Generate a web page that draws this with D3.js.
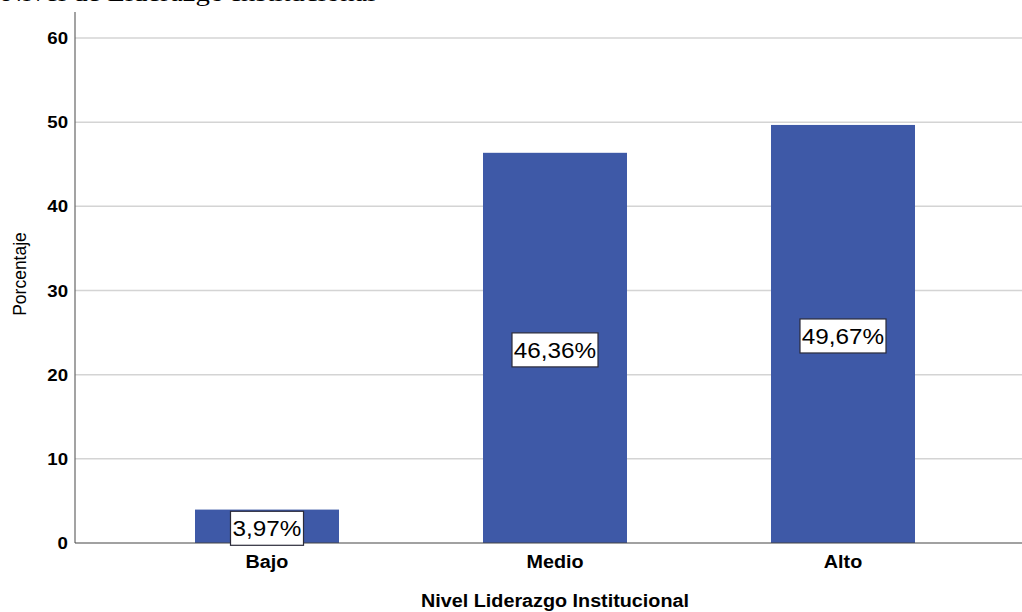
<!DOCTYPE html>
<html>
<head>
<meta charset="utf-8">
<script src="https://cdn.jsdelivr.net/npm/d3@7"></script>
<style>
  html, body { margin: 0; padding: 0; background: #fff; }
  svg { display: block; }
</style>
</head>
<body>
<svg id="chart" width="1022" height="612"></svg>
<script>
// Data
const categories = ["Bajo", "Medio", "Alto"];
const percentages = [3.97, 46.36, 49.67];
const valueLabels = ["3,97%", "46,36%", "49,67%"];
const yTicks = [0, 10, 20, 30, 40, 50, 60];
const heading = "Nivel de Liderazgo Institucional";
const xTitle = "Nivel Liderazgo Institucional";
const yTitle = "Porcentaje";

const W = 1022, H = 612;
const SX = 1.13; // horizontal stretch applied to text
const svg = d3.select("#chart");

const plot = { left: 75, right: 1035, top: 12, bottom: 543 };

const x = d3.scaleBand()
  .domain(categories)
  .range([plot.left, plot.right])
  .paddingInner(0.5)
  .paddingOuter(0.4167);

const y = d3.scaleLinear()
  .domain([0, 60])
  .range([plot.bottom, 38]);

function addText(g, tx, ty, str, opts) {
  const t = g.append("text")
    .attr("transform", `translate(${tx},${ty}) scale(${opts.sx || SX},1)` + (opts.rotate ? ` rotate(${opts.rotate})` : ""))
    .attr("font-family", opts.family || "'Liberation Sans', Arial, sans-serif")
    .attr("font-size", opts.size)
    .attr("font-weight", opts.weight || "normal")
    .attr("text-anchor", opts.anchor || "middle")
    .attr("fill", opts.fill || "#000")
    .text(str);
  return t;
}

// Heading above the chart, mostly outside the top edge
addText(svg, 2, 1, heading, { size: 24, anchor: "start", family: "'Liberation Serif', 'Times New Roman', serif", sx: 1.2 });

// Gridlines
svg.append("g")
  .selectAll("line")
  .data(yTicks.filter(d => d > 0))
  .join("line")
  .attr("x1", plot.left)
  .attr("x2", W)
  .attr("y1", d => y(d))
  .attr("y2", d => y(d))
  .attr("stroke", "#d4d4d4")
  .attr("stroke-width", 1.5);

// Bars
svg.append("g")
  .selectAll("rect")
  .data(categories)
  .join("rect")
  .attr("x", d => x(d))
  .attr("y", (d, i) => y(percentages[i]))
  .attr("width", x.bandwidth())
  .attr("height", (d, i) => y(0) - y(percentages[i]))
  .attr("fill", "#3e59a7");

// Axes lines
svg.append("line")
  .attr("x1", plot.left).attr("x2", plot.left)
  .attr("y1", plot.top).attr("y2", plot.bottom)
  .attr("stroke", "#666").attr("stroke-width", 1.2);
svg.append("line")
  .attr("x1", plot.left).attr("x2", W)
  .attr("y1", plot.bottom).attr("y2", plot.bottom)
  .attr("stroke", "#444").attr("stroke-width", 1.2);

// Y tick labels
const yg = svg.append("g");
yTicks.forEach(t => {
  addText(yg, 68, y(t) + 6, String(t), { size: 16.5, weight: "bold", anchor: "end" });
});

// X category labels
const xg = svg.append("g");
categories.forEach(c => {
  addText(xg, x(c) + x.bandwidth() / 2, 568, c, { size: 17.5, weight: "bold" });
});

// Value labels in boxes
const lg = svg.append("g");
categories.forEach((c, i) => {
  const cx = x(c) + x.bandwidth() / 2;
  const cy = (y(percentages[i]) + y(0)) / 2 + 2;
  const bw = valueLabels[i].length === 5 ? 73 : 86;
  const bh = 34;
  lg.append("rect")
    .attr("x", cx - bw / 2)
    .attr("y", cy - bh / 2)
    .attr("width", bw)
    .attr("height", bh)
    .attr("fill", "#fff")
    .attr("stroke", "#2b2b3a")
    .attr("stroke-width", 1.2);
  addText(lg, cx, cy + 8, valueLabels[i], { size: 21.5 });
});

// Axis titles
addText(svg, 555, 607, xTitle, { size: 17.5, weight: "bold" });
addText(svg, 26, 274, yTitle, { size: 17.5, rotate: -90, sx: 1.0 });
</script>
</body>
</html>
